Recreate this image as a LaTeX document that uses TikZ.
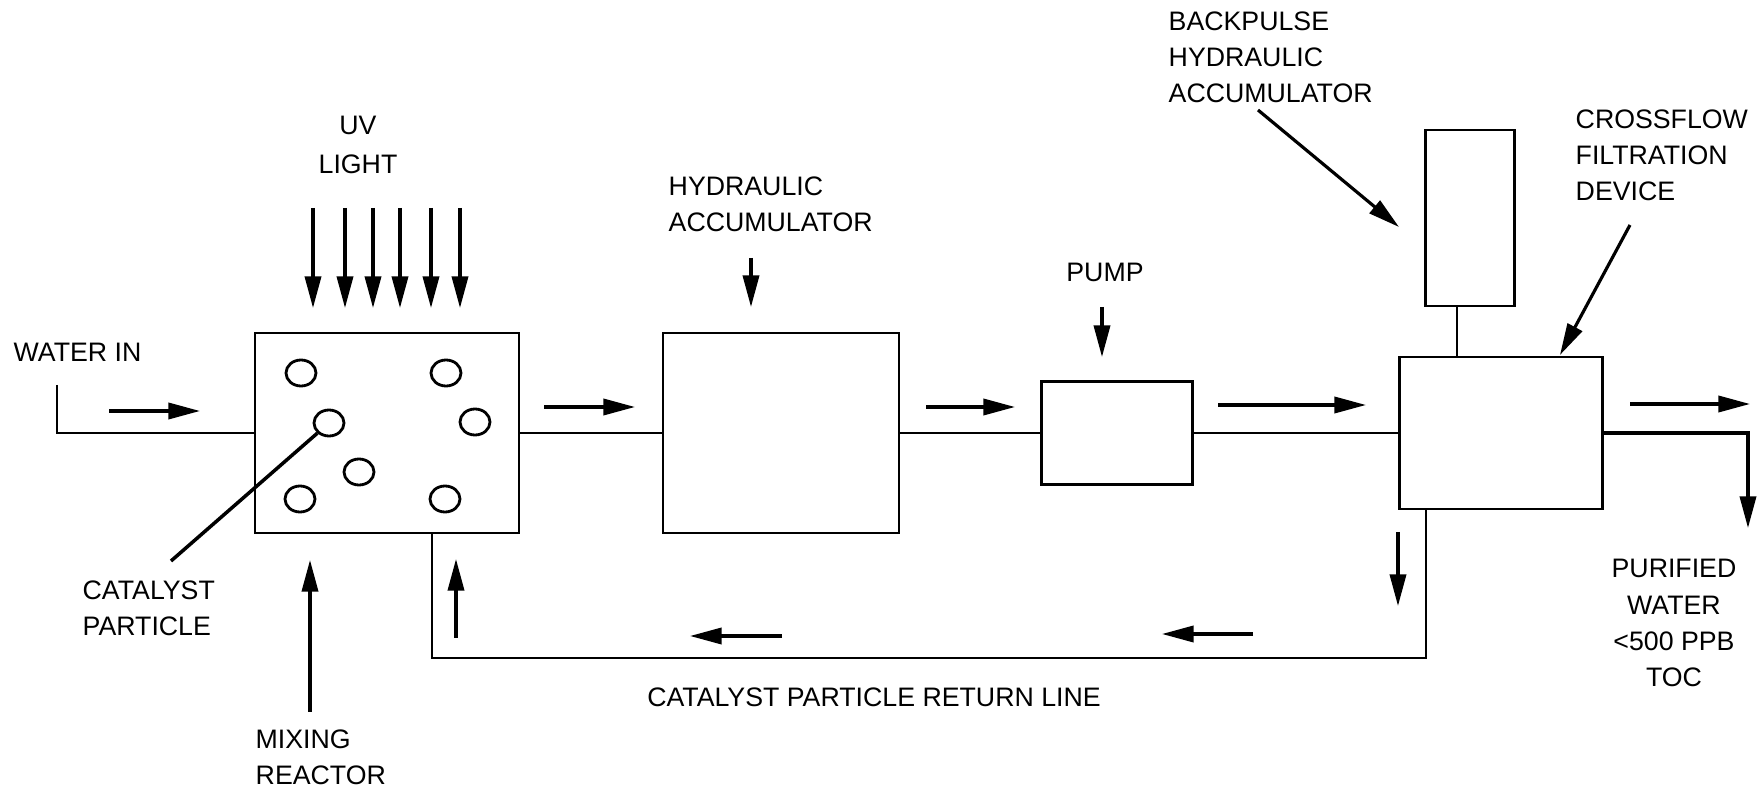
\documentclass[tikz,border=0pt]{standalone}
\usepackage{fontspec}
\setmainfont{Liberation Sans}
\usetikzlibrary{arrows.meta,shapes.geometric}

\begin{document}
\begin{tikzpicture}[x=0.01cm,y=-0.01cm,
  font=\fontsize{7.6}{10.25}\selectfont,
  box/.style={draw,line width=0.8pt,inner sep=0pt},
  particle/.style={ellipse,draw,line width=0.8pt,inner sep=0pt,
                   minimum width=0.30cm,minimum height=0.26cm},
  pipe/.style={line width=0.8pt},
  flow/.style={-{Triangle[length=9pt,width=4.6pt]},line width=0.9pt},
  tag/.style={inner sep=0pt,align=left}]
  \useasboundingbox (0,0) rectangle (1762,791);
  % units
  \node[box,minimum width=2.64cm,minimum height=2.0cm] (reactor) at (387,433) {};
  \node[box,minimum width=2.36cm,minimum height=2.0cm] (hydacc) at (781,433) {};
  \node[box,minimum width=1.51cm,minimum height=1.03cm] (pump) at (1117,433) {};
  \node[box,minimum width=2.03cm,minimum height=1.52cm] (filt) at (1501,433) {};
  \node[box,minimum width=0.89cm,minimum height=1.76cm] (bpacc) at (1470,218) {};
  \foreach \px/\py [count=\i] in {301/373,446/373,329/423,475/422,359/472,300/499,445/499}
    \node[particle] (p\i) at (\px,\py) {};
  % labels
  \node[tag,anchor=west] (lblwater) at (13,352) {WATER IN};
  \node[tag,align=center] (lbluv) at (358,145) {UV\\[1pt]LIGHT};
  \node[tag,anchor=west] (lblcat) at (82,608) {CATALYST\\PARTICLE};
  \node[tag,anchor=west] (lblmix) at (255,757) {MIXING\\REACTOR};
  \node[tag,anchor=west] (lblhyd) at (668,204) {HYDRAULIC\\ACCUMULATOR};
  \node[tag] (lblpump) at (1105,272) {PUMP};
  \node[tag,anchor=west] (lblbp) at (1168,57) {BACKPULSE\\HYDRAULIC\\ACCUMULATOR};
  \node[tag,anchor=west] (lblcross) at (1575,155) {CROSSFLOW\\FILTRATION\\DEVICE};
  \node[tag,align=center] (lblpure) at (1674,623) {PURIFIED\\WATER\\<500 PPB\\TOC};
  \node[tag] (lblreturn) at (874,697) {CATALYST PARTICLE RETURN LINE};
  % pipes
  \coordinate (inlet) at (57,385);
  \coordinate (outend) at (1748,528);
  \coordinate (bpfoot) at (1457,0);
  \coordinate (retr) at (1426,658);
  \coordinate (retl) at (432,658);
  \coordinate (catend) at (171,561);
  \draw[pipe] (inlet) |- (reactor.west);
  \draw[pipe] (reactor) -- (hydacc);
  \draw[pipe] (hydacc) -- (pump);
  \draw[pipe] (pump) -- (filt);
  \draw[pipe] (bpacc.south -| bpfoot) -- (filt.north -| bpfoot);
  \draw[flow] (filt.east) -| (outend);
  \draw[pipe] (filt.south -| retr) -- (retr) -- (retl) -- (retl |- reactor.south);
  \draw[pipe,line width=1pt] (catend) -- (p3);
  % flow arrows
  \foreach \x in {313,345,373,400,431,460}
    \draw[flow] (\x,208) -- (\x,308);
  \draw[flow] (109,411) -- (200,411);
  \draw[flow] (544,407) -- (635,407);
  \draw[flow] (926,407) -- (1015,407);
  \draw[flow] (1218,405) -- (1366,405);
  \draw[flow] (1630,404) -- (1750,404);
  \draw[flow] (751,258) -- (751,307);
  \draw[flow] (1102,307) -- (1102,357);
  \draw[flow] (1258,110) -- (1399,227);
  \draw[flow] (1630,225) -- (1560,355);
  \draw[flow] (310,712) -- (310,560);
  \draw[flow] (456,638) -- (456,559);
  \draw[flow] (782,636) -- (690,636);
  \draw[flow] (1253,634) -- (1162,634);
  \draw[flow] (1398,532) -- (1398,606);
\end{tikzpicture}
\end{document}
